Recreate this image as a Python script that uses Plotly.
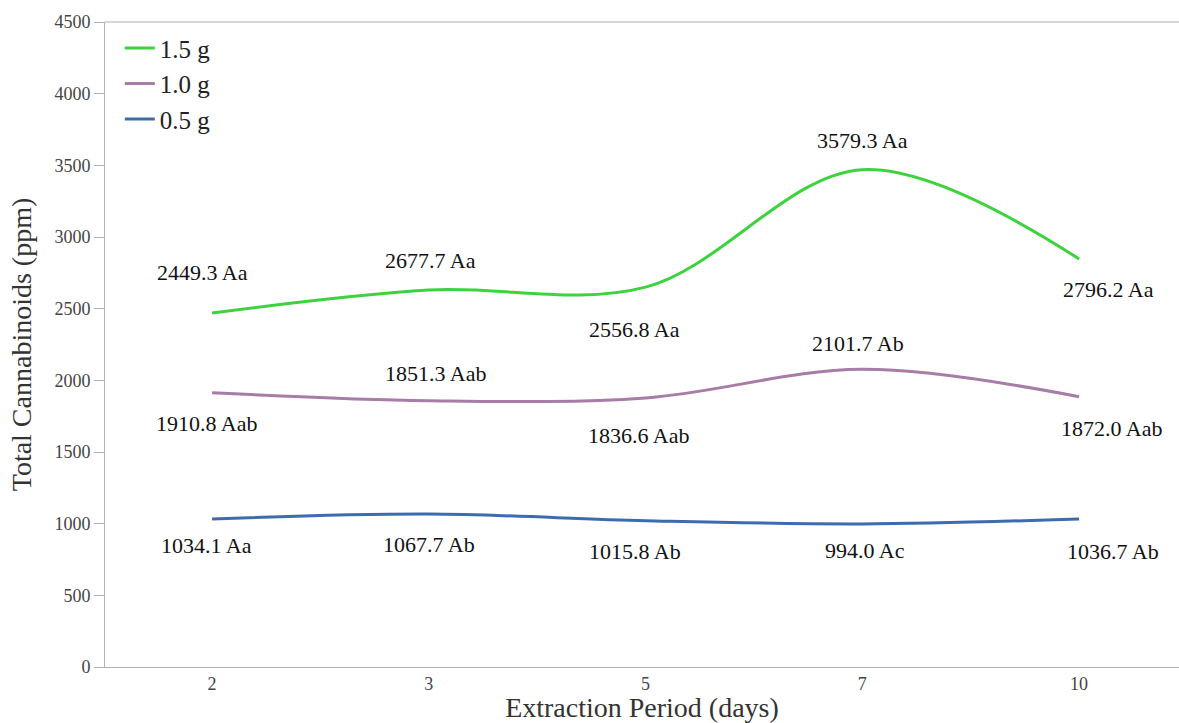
import plotly.graph_objects as go

# Data
periods = ["2", "3", "5", "7", "10"]
series_names = ["1.5 g", "1.0 g", "0.5 g"]
vals_15 = [2470, 2630, 2650, 3470, 2847]
vals_10 = [1914, 1858, 1877, 2077, 1886]
vals_05 = [1033, 1067, 1021, 998, 1033]
labels_15 = ["2449.3 Aa", "2677.7 Aa", "2556.8 Aa", "3579.3 Aa", "2796.2 Aa"]
labels_10 = ["1910.8 Aab", "1851.3 Aab", "1836.6 Aab", "2101.7 Ab", "1872.0 Aab"]
labels_05 = ["1034.1 Aa", "1067.7 Ab", "1015.8 Ab", "994.0 Ac", "1036.7 Ab"]
y_ticks = [0, 500, 1000, 1500, 2000, 2500, 3000, 3500, 4000, 4500]

# label pixel offsets (style)
off_15 = [(-10, 40), (2, 30), (-11, -42), (0, 29), (29, -31)]
off_10 = [(-6, -31), (7, 27), (-7, -38), (-4, 26), (32, -32)]
off_05 = [(-6, -27), (0, -30), (-11, -31), (3, -27), (34, -33)]

colors = ["#3fd23f", "#a77ca7", "#3d6cae"]
serif = "Liberation Serif"

fig = go.Figure()
for name, vals, col in zip(series_names, [vals_15, vals_10, vals_05], colors):
    fig.add_trace(go.Scatter(
        x=list(range(len(periods))), y=vals, name=name, mode="lines",
        line=dict(color=col, width=3, shape="spline", smoothing=1.0),
    ))

for vals, labs, offs in [(vals_15, labels_15, off_15), (vals_10, labels_10, off_10), (vals_05, labels_05, off_05)]:
    for i, (v, t, o) in enumerate(zip(vals, labs, offs)):
        fig.add_annotation(x=i, y=v, text=t, showarrow=False,
                           xshift=o[0], yshift=o[1],
                           font=dict(family=serif, size=22, color="#111"))

fig.add_shape(type="line", xref="paper", yref="paper", x0=0, x1=1, y0=1, y1=1,
              line=dict(color="#b0b0b0", width=1))

fig.update_layout(
    width=1179, height=723,
    margin=dict(l=105, r=0, t=22, b=56, autoexpand=False),
    paper_bgcolor="white", plot_bgcolor="white",
    font=dict(family=serif),
    showlegend=True,
    legend=dict(x=0.0138, y=0.995, xanchor="left", yanchor="top",
                bgcolor="rgba(0,0,0,0)", font=dict(family=serif, size=25, color="#222"),
                tracegroupgap=0),
    xaxis=dict(
        tickmode="array", tickvals=list(range(len(periods))), ticktext=periods,
        range=[-0.494, 4.461], showgrid=False, zeroline=False, automargin=False,
        showline=True, linecolor="#b0b0b0", linewidth=1, ticks="",
        tickfont=dict(family=serif, size=18, color="#444"),
        title=dict(text="Extraction Period (days)", font=dict(family=serif, size=28, color="#333"), standoff=4),
    ),
    yaxis=dict(
        range=[0, 4500], tickmode="array", tickvals=y_ticks, automargin=False,
        showgrid=False, zeroline=False,
        showline=True, linecolor="#b0b0b0", linewidth=1,
        ticks="outside", ticklen=10, tickcolor="#b0b0b0",
        tickfont=dict(family=serif, size=18, color="#444"),
        title=dict(text="Total Cannabinoids (ppm)", font=dict(family=serif, size=28, color="#333"), standoff=14),
    ),
)

fig.write_html("out.html", config={"displayModeBar": False},
               post_script="document.body.style.margin='0';document.body.style.overflow='hidden';")
